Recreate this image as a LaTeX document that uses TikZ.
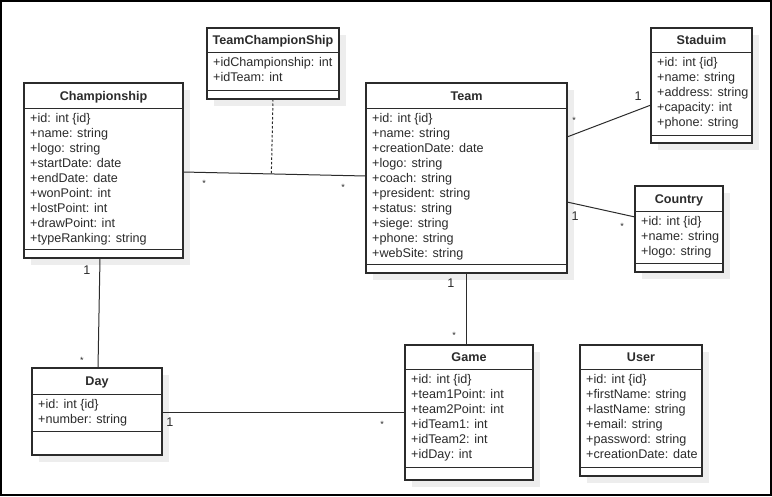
\documentclass[tikz,border=0pt]{standalone}
\usepackage{fontspec}
\setmainfont{Liberation Sans}
\usetikzlibrary{calc}

\definecolor{ink}{HTML}{2B2B2B}
\definecolor{dropgray}{HTML}{EDEDED}

\tikzset{
  classbox/.style={draw=ink, line width=1.1pt, fill=white, inner sep=0pt, outer sep=0pt},
  dropshadow/.style={fill=dropgray, draw=none},
  classname/.style={font=\fontsize{12.6}{15}\selectfont\bfseries, text=ink, inner sep=0pt, anchor=base},
  attr/.style={font=\fontsize{12.6}{15}\selectfont, text=ink, inner sep=0pt, anchor=base west},
  assoc/.style={draw=ink, line width=1pt},
  linkdash/.style={draw=ink, line width=1pt, dash pattern=on 2.5pt off 2pt},
  mult/.style={font=\fontsize{12.6}{15}\selectfont, text=ink, inner sep=0pt, anchor=base},
  many/.style={font=\fontsize{9}{10}\selectfont, text=ink, inner sep=0pt, anchor=base},
}

% #1 node name, #2 left, #3 top, #4 right, #5 bottom,
% #6 rule under the name, #7 rule under the attributes, #8 class name, #9 attributes
\newcommand\umlclass[9]{%
  \path[dropshadow] ({#2+7},{#3+7}) rectangle ({#4+7},{#5+7});
  \node[classbox, minimum width={(#4-#2)*1pt}, minimum height={(#5-#3)*1pt}]
    (#1) at ({(#2+#4)/2},{(#3+#5)/2}) {};
  \draw[assoc] (#2,#6) -- (#4,#6) (#2,#7) -- (#4,#7);
  \node[classname] (#1-name) at ({(#2+#4)/2},{(#3+#6)/2+4.5}) {#8};
  \foreach \t [count=\i from 0] in {#9}
    \node[attr] (#1-a\i) at ({#2+6},{#6+14.5+15*\i}) {\t};
}

\begin{document}
\begin{tikzpicture}[x=1pt, y=-1pt]
  \useasboundingbox (0,0) rectangle (772,496);
  \draw[line width=2pt, black] (1,1) rectangle (771,495);

  \umlclass{tc}{207}{28}{339}{99}{52}{90}{TeamChampionShip}
    {+idChampionship: int, +idTeam: int}
  \umlclass{champ}{24}{83}{183}{258}{108}{249}{Championship}
    {+id: int \{id\}, +name: string, +logo: string, +startDate: date, +endDate: date,
     +wonPoint: int, +lostPoint: int, +drawPoint: int, +typeRanking: string}
  \umlclass{team}{366}{83}{567}{273}{108}{264}{Team}
    {+id: int \{id\}, +name: string, +creationDate: date, +logo: string, +coach: string,
     +president: string, +status: string, +siege: string, +phone: string, +webSite: string}
  \umlclass{stad}{651}{28}{752}{143}{52}{135}{Staduim}
    {+id: int \{id\}, +name: string, +address: string, +capacity: int, +phone: string}
  \umlclass{country}{635}{186}{723}{272}{211}{263}{Country}
    {+id: int \{id\}, +name: string, +logo: string}
  \umlclass{day}{32}{368}{162}{455}{394}{431}{Day}
    {+id: int \{id\}, +number: string}
  \umlclass{game}{405}{345}{533}{480}{369}{467}{Game}
    {+id: int \{id\}, +team1Point: int, +team2Point: int, +idTeam1: int, +idTeam2: int, +idDay: int}
  \umlclass{user}{580}{345}{702}{476}{369}{467}{User}
    {+id: int \{id\}, +firstName: string, +lastName: string, +email: string,
     +password: string, +creationDate: date}

  % associations
  \draw[assoc] ($(champ.north east)+(0,89)$) coordinate (ct1)
            -- ($(team.north west)+(0,93)$) coordinate (ct2);
  \draw[linkdash] (tc.south) -- ($(ct1)!(tc.south)!(ct2)$);
  \draw[assoc] ($(team.north east)+(0,54)$) -- ($(stad.north west)+(0,77)$);
  \draw[assoc] ($(team.north east)+(0,119)$) -- ($(country.north west)+(0,31)$);
  \draw[assoc] (team.south) -- (team.south |- game.north);
  \draw[assoc] ($(champ.south)+(-3.5,0)$) -- ($(day.north)+(1,0)$);
  \draw[assoc] ($(day.north east)+(0,44)$) -- ($(game.north west)+(0,67)$);

  % multiplicities
  \node[many] (m-ct1) at (204,186.8) {*};
  \node[many] (m-ct2) at (343,190.1) {*};
  \node[many] (m-ts1) at (574,123.1) {*};
  \node[mult] (m-ts2) at (638,100.2) {1};
  \node[mult] (m-tc1) at (575,220.2) {1};
  \node[many] (m-tc2) at (622,229.4) {*};
  \node[mult] (m-cd1) at (87,274.5) {1};
  \node[many] (m-cd2) at (82,363.4) {*};
  \node[mult] (m-tg1) at (451,287.5) {1};
  \node[many] (m-tg2) at (454,338.1) {*};
  \node[mult] (m-dg1) at (170,426.5) {1};
  \node[many] (m-dg2) at (382,427.1) {*};
\end{tikzpicture}
\end{document}
